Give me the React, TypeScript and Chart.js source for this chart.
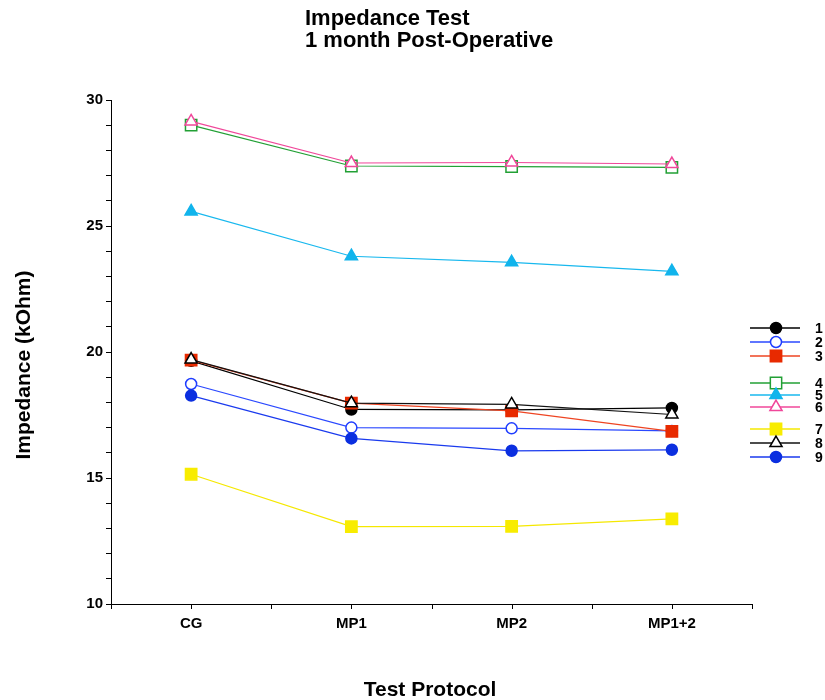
import React, { useEffect, useRef } from 'react';
import { Chart, registerables } from 'chart.js';

Chart.register(...registerables);

const FONT = "'Liberation Sans', Arial, Helvetica, sans-serif";

const titleLines = ['Impedance Test', '1 month Post-Operative'];
const xAxisTitle = 'Test Protocol';
const yAxisTitle = 'Impedance (kOhm)';

const categories = ['CG', 'MP1', 'MP2', 'MP1+2'];
const seriesNames = ['1', '2', '3', '4', '5', '6', '7', '8', '9'];

const s1 = [19.65, 17.72, 17.7, 17.78];
const s2 = [18.73, 17.0, 16.97, 16.87];
const s3 = [19.68, 17.97, 17.66, 16.85];
const s4 = [29.0, 27.38, 27.36, 27.33];
const s5 = [25.58, 23.8, 23.56, 23.2];
const s6 = [29.15, 27.5, 27.52, 27.46];
const s7 = [15.15, 13.07, 13.08, 13.38];
const s8 = [19.7, 17.97, 17.92, 17.52];
const s9 = [18.27, 16.57, 16.08, 16.12];

const seriesValues = [s1, s2, s3, s4, s5, s6, s7, s8, s9];

const yMin = 10;
const yMax = 30;
const yLabelStep = 5;

type Style = { line: string; marker: string; fill: string; shape: 'circle' | 'rect' | 'triangle' };

const styles: Style[] = [
  { line: '#000000', marker: '#000000', fill: '#000000', shape: 'circle' },
  { line: '#2a48ff', marker: '#1f3dff', fill: '#ffffff', shape: 'circle' },
  { line: '#ee4422', marker: '#e82a00', fill: '#e82a00', shape: 'rect' },
  { line: '#22a035', marker: '#22a035', fill: '#ffffff', shape: 'rect' },
  { line: '#18b8ee', marker: '#11b4ec', fill: '#11b4ec', shape: 'triangle' },
  { line: '#f0479a', marker: '#f0479a', fill: '#ffffff', shape: 'triangle' },
  { line: '#f5e800', marker: '#f8ec00', fill: '#f8ec00', shape: 'rect' },
  { line: '#111111', marker: '#000000', fill: '#ffffff', shape: 'triangle' },
  { line: '#1a3aee', marker: '#0b2fe0', fill: '#0b2fe0', shape: 'circle' },
];

const radiusFor = (shape: string) => (shape === 'rect' ? 8 : shape === 'triangle' ? 7 : 5.5);

const legendRows = [328, 342, 356, 383, 395, 407, 429, 443, 457];

function drawMarker(ctx: CanvasRenderingContext2D, st: Style, x: number, y: number) {
  const r = radiusFor(st.shape);
  ctx.beginPath();
  if (st.shape === 'circle') {
    ctx.arc(x, y, r, 0, Math.PI * 2);
  } else if (st.shape === 'rect') {
    const h = Math.SQRT1_2 * r;
    ctx.rect(x - h, y - h, 2 * h, 2 * h);
  } else {
    const a = (2 * Math.PI) / 3;
    let rad = 0;
    ctx.moveTo(x + Math.sin(rad) * r, y - Math.cos(rad) * r);
    rad += a;
    ctx.lineTo(x + Math.sin(rad) * r, y - Math.cos(rad) * r);
    rad += a;
    ctx.lineTo(x + Math.sin(rad) * r, y - Math.cos(rad) * r);
    ctx.closePath();
  }
  ctx.fillStyle = st.fill;
  ctx.fill();
  ctx.lineWidth = 1.5;
  ctx.strokeStyle = st.marker;
  ctx.stroke();
}

const textPlugin = {
  id: 'customText',
  afterDraw(chart: any) {
    const ctx: CanvasRenderingContext2D = chart.ctx;
    ctx.save();
    ctx.fillStyle = '#000';
    ctx.textBaseline = 'alphabetic';
    ctx.font = `bold 22px ${FONT}`;
    ctx.textAlign = 'left';
    ctx.fillText(titleLines[0], 305, 25);
    ctx.fillText(titleLines[1], 305, 47);

    ctx.font = `bold 21px ${FONT}`;
    ctx.textAlign = 'center';
    ctx.fillText(xAxisTitle, 430, 696);

    ctx.save();
    ctx.translate(30, 365);
    ctx.rotate(-Math.PI / 2);
    ctx.fillText(yAxisTitle, 0, 0);
    ctx.restore();

    // x-axis tick marks at category centres and boundaries
    const xs = chart.scales.x;
    const bottom = chart.chartArea.bottom;
    ctx.strokeStyle = '#000';
    ctx.lineWidth = 1;
    for (let k = 0; k <= categories.length * 2; k++) {
      const v = -0.5 + k * 0.5;
      const px = Math.round(xs.getPixelForValue(v)) + 0.5;
      ctx.beginPath();
      ctx.moveTo(px, bottom);
      ctx.lineTo(px, bottom + 5);
      ctx.stroke();
    }

    // legend
    styles.forEach((st, i) => {
      const y = legendRows[i];
      ctx.beginPath();
      ctx.moveTo(750, y);
      ctx.lineTo(800, y);
      ctx.lineWidth = 1.3;
      ctx.strokeStyle = st.line;
      ctx.stroke();
      drawMarker(ctx, st, 776, y);
      ctx.fillStyle = '#000';
      ctx.font = `bold 14px ${FONT}`;
      ctx.textAlign = 'left';
      ctx.textBaseline = 'middle';
      ctx.fillText(seriesNames[i], 815, y + 1);
    });
    ctx.restore();
  },
};

export default function App() {
  const ref = useRef<HTMLCanvasElement | null>(null);

  useEffect(() => {
    if (!ref.current) return;
    const datasets = seriesValues.map((vals, i) => {
      const st = styles[i];
      return {
        label: seriesNames[i],
        data: vals.map((v, j) => ({ x: j, y: v })),
        borderColor: st.line,
        borderWidth: 1.2,
        pointStyle: st.shape,
        pointRadius: radiusFor(st.shape),
        pointBackgroundColor: st.fill,
        pointBorderColor: st.marker,
        pointBorderWidth: 1.5,
        fill: false,
        tension: 0,
        order: seriesValues.length - i,
      };
    });

    const chart = new Chart(ref.current, {
      type: 'line',
      data: { datasets },
      options: {
        responsive: false,
        animation: false,
        events: [],
        layout: { padding: { top: 100, right: 73, left: 0, bottom: 0 } },
        plugins: {
          legend: { display: false },
          title: { display: false },
          tooltip: { enabled: false },
        },
        scales: {
          x: {
            type: 'linear',
            min: -0.5,
            max: 3.5,
            afterFit: (scale: any) => {
              scale.height = 96;
            },
            afterBuildTicks: (scale: any) => {
              scale.ticks = categories.map((_, i) => ({ value: i }));
            },
            ticks: {
              autoSkip: false,
              maxRotation: 0,
              padding: 11,
              color: '#000',
              font: { family: FONT, size: 15, weight: 'bold' },
              callback: (v: any) => {
                const n = Math.round(Number(v));
                return categories[n] !== undefined ? categories[n] : '';
              },
            },
            grid: { drawOnChartArea: false, drawTicks: false },
            border: { display: true, color: '#000', width: 1 },
          },
          y: {
            type: 'linear',
            min: yMin,
            max: yMax,
            afterFit: (scale: any) => {
              scale.width = 111;
            },
            ticks: {
              stepSize: 1,
              autoSkip: false,
              padding: 3,
              color: '#000',
              font: { family: FONT, size: 15, weight: 'bold' },
              callback: (v: any) => (Number(v) % yLabelStep === 0 ? String(v) : ''),
            },
            grid: { drawOnChartArea: false, drawTicks: true, tickLength: 5, color: '#000' },
            border: { display: true, color: '#000', width: 1 },
          },
        },
      },
      plugins: [textPlugin],
    } as any);
    return () => chart.destroy();
  }, []);

  return (
    <div style={{ position: 'fixed', left: 0, top: 0, width: 825, height: 700, background: '#fff' }}>
      <canvas ref={ref} width={825} height={700} style={{ display: 'block' }} />
    </div>
  );
}
